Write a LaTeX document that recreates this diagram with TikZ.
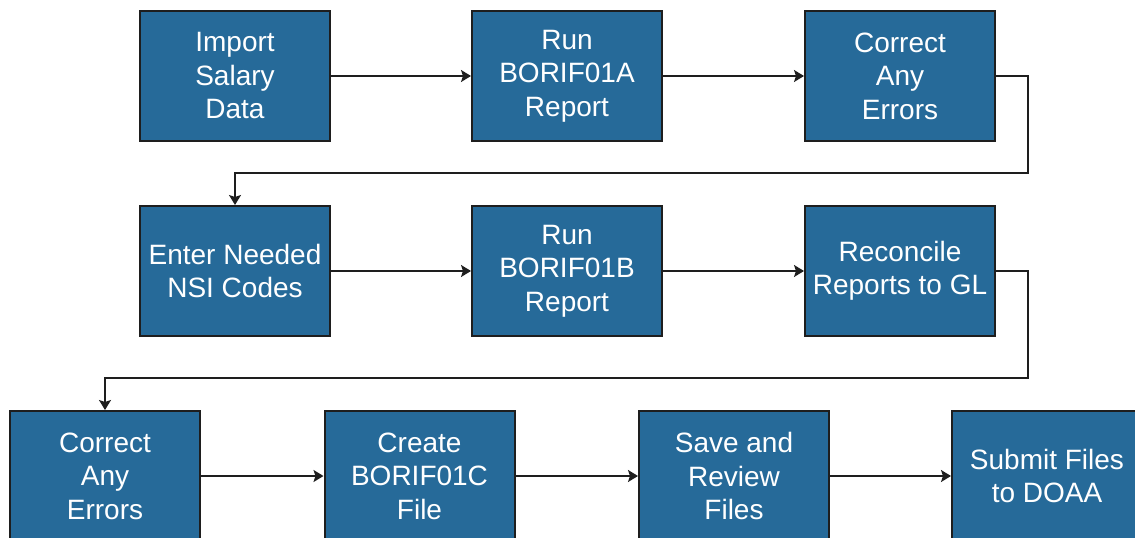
\documentclass[tikz,border=0pt]{standalone}
\usepackage{fontspec}
\setmainfont{Liberation Sans}
\usetikzlibrary{arrows.meta}
\definecolor{boxblue}{RGB}{38,106,153}
\definecolor{boxline}{RGB}{30,30,30}
\begin{document}
\begin{tikzpicture}[x=1pt,y=-1pt,
  stepbox/.style={draw=boxline,fill=boxblue,line width=2pt,minimum width=190pt,
    minimum height=130pt,inner sep=2pt,align=center,text=white,
    font=\fontsize{28}{33.5}\selectfont},
  flow/.style={-{Stealth[length=10pt,width=12pt,inset=2pt]},line width=1.6pt,draw=boxline}]
\clip (0,0) rectangle (1135,538);

\node[stepbox] (import) at (235,76) {Import\\Salary\\Data};
\node[stepbox] (runA) at (567,76) {Run\\BORIF01A\\Report};
\node[stepbox] (fixA) at (900,76) {Correct\\Any\\Errors};
\node[stepbox] (nsi) at (235,271) {Enter Needed\\NSI Codes};
\node[stepbox] (runB) at (567,271) {Run\\BORIF01B\\Report};
\node[stepbox] (recon) at (900,271) {Reconcile\\Reports to GL};
\node[stepbox] (fixB) at (105,476) {Correct\\Any\\Errors};
\node[stepbox] (runC) at (419.5,476) {Create\\BORIF01C\\File};
\node[stepbox] (save) at (734,476) {Save and\\Review\\Files};
\node[stepbox] (submit) at (1047,476) {Submit Files\\to DOAA};

\coordinate (turn1) at (1028,173);
\coordinate (turn2) at (1028,378);

\draw[flow] (import) -- (runA);
\draw[flow] (runA) -- (fixA);
\draw[flow] (fixA.east) -| (turn1) -| (nsi.north);
\draw[flow] (nsi) -- (runB);
\draw[flow] (runB) -- (recon);
\draw[flow] (recon.east) -| (turn2) -| (fixB.north);
\draw[flow] (fixB) -- (runC);
\draw[flow] (runC) -- (save);
\draw[flow] (save) -- (submit);
\end{tikzpicture}
\end{document}
